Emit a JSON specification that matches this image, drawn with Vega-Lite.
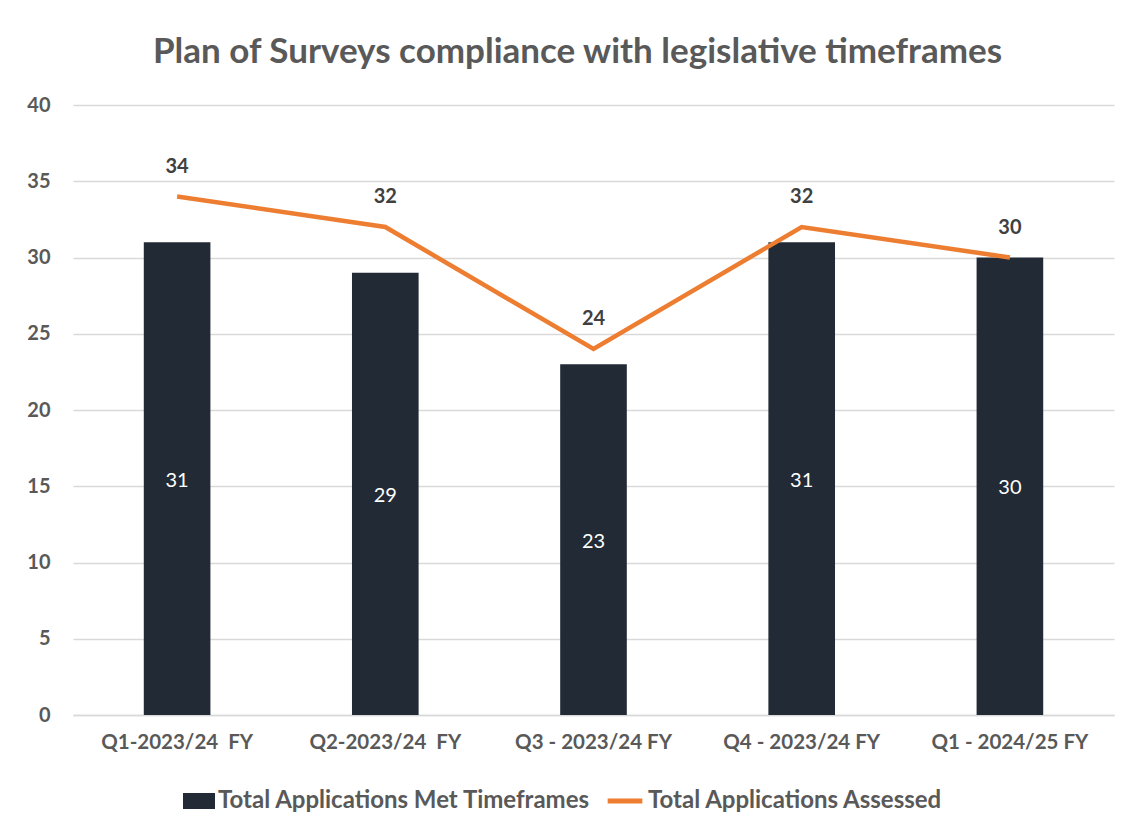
{
  "$schema": "https://vega.github.io/schema/vega-lite/v6.json",
  "width": 1041,
  "height": 610,
  "autosize": {"type": "none"},
  "padding": {"left": 73, "top": 105, "right": 15, "bottom": 119},
  "background": "white",
  "title": {
    "text": "Plan of Surveys compliance with legislative timeframes",
    "fontSize": 35,
    "font": "Lato",
    "fontWeight": "bold",
    "color": "#595959",
    "offset": 25,
    "dx": -16
  },
  "data": {
    "values": [
      {"quarter": "Q1-2023/24\u00a0 FY", "met": 31, "assessed": 34},
      {"quarter": "Q2-2023/24\u00a0 FY", "met": 29, "assessed": 32},
      {"quarter": "Q3 - 2023/24 FY", "met": 23, "assessed": 24},
      {"quarter": "Q4 - 2023/24 FY", "met": 31, "assessed": 32},
      {"quarter": "Q1 - 2024/25 FY", "met": 30, "assessed": 30}
    ]
  },
  "encoding": {
    "x": {
      "field": "quarter",
      "type": "nominal",
      "sort": null,
      "title": null,
      "scale": {"paddingInner": 0.68, "paddingOuter": 0.34},
      "axis": {
        "labelAngle": 0,
        "labelPadding": 17,
        "ticks": false,
        "labelFontSize": 20.5,
        "labelFontWeight": "bold",
        "labelColor": "#595959",
        "domainColor": "#d9d9d9",
        "domainWidth": 1.5
      }
    }
  },
  "layer": [
    {
      "mark": {"type": "bar", "color": "#222A35"},
      "encoding": {
        "y": {
          "field": "met",
          "type": "quantitative",
          "title": null,
          "scale": {"domain": [0, 40]},
          "axis": {
            "values": [0, 5, 10, 15, 20, 25, 30, 35, 40],
            "grid": true,
            "gridColor": "#d9d9d9",
            "gridWidth": 1.5,
            "domain": false,
            "ticks": false,
            "labelPadding": 23,
            "labelFontSize": 20,
            "labelFontWeight": "bold",
            "labelColor": "#595959"
          }
        },
        "fill": {
          "datum": "Total Applications Met Timeframes",
          "type": "nominal",
          "scale": {"range": ["#222A35"]},
          "legend": {
            "title": null,
            "orient": "none",
            "legendX": 110,
            "legendY": 680,
            "symbolType": "M-1,-0.5L1,-0.5L1,0.5L-1,0.5Z",
            "symbolSize": 1024,
            "symbolStrokeWidth": 0
          }
        }
      }
    },
    {
      "transform": [{"calculate": "datum.met / 2", "as": "mid"}],
      "mark": {"type": "text", "color": "white", "fontSize": 20, "baseline": "middle", "dy": 2},
      "encoding": {
        "y": {"field": "mid", "type": "quantitative", "title": null},
        "text": {"field": "met", "type": "quantitative"}
      }
    },
    {
      "mark": {"type": "line", "color": "#ED7D31", "strokeWidth": 4.5},
      "encoding": {
        "y": {"field": "assessed", "type": "quantitative", "title": null},
        "stroke": {
          "datum": "Total Applications Assessed",
          "type": "nominal",
          "scale": {"range": ["#ED7D31"]},
          "legend": {
            "title": null,
            "orient": "none",
            "legendX": 532,
            "legendY": 676,
            "symbolType": "stroke",
            "symbolSize": 1200,
            "symbolStrokeWidth": 5
          }
        }
      }
    },
    {
      "mark": {"type": "text", "dy": -30, "fontWeight": "bold", "fontSize": 20, "color": "#404040", "baseline": "middle"},
      "encoding": {
        "y": {"field": "assessed", "type": "quantitative", "title": null},
        "text": {"field": "assessed", "type": "quantitative"}
      }
    }
  ],
  "config": {
    "font": "Lato",
    "view": {"stroke": null},
    "legend": {
      "direction": "horizontal",
      "labelFont": "Lato",
      "labelFontSize": 24,
      "labelFontWeight": "bold",
      "labelColor": "#595959",
      "labelOffset": 3,
      "labelLimit": 0
    }
  }
}
